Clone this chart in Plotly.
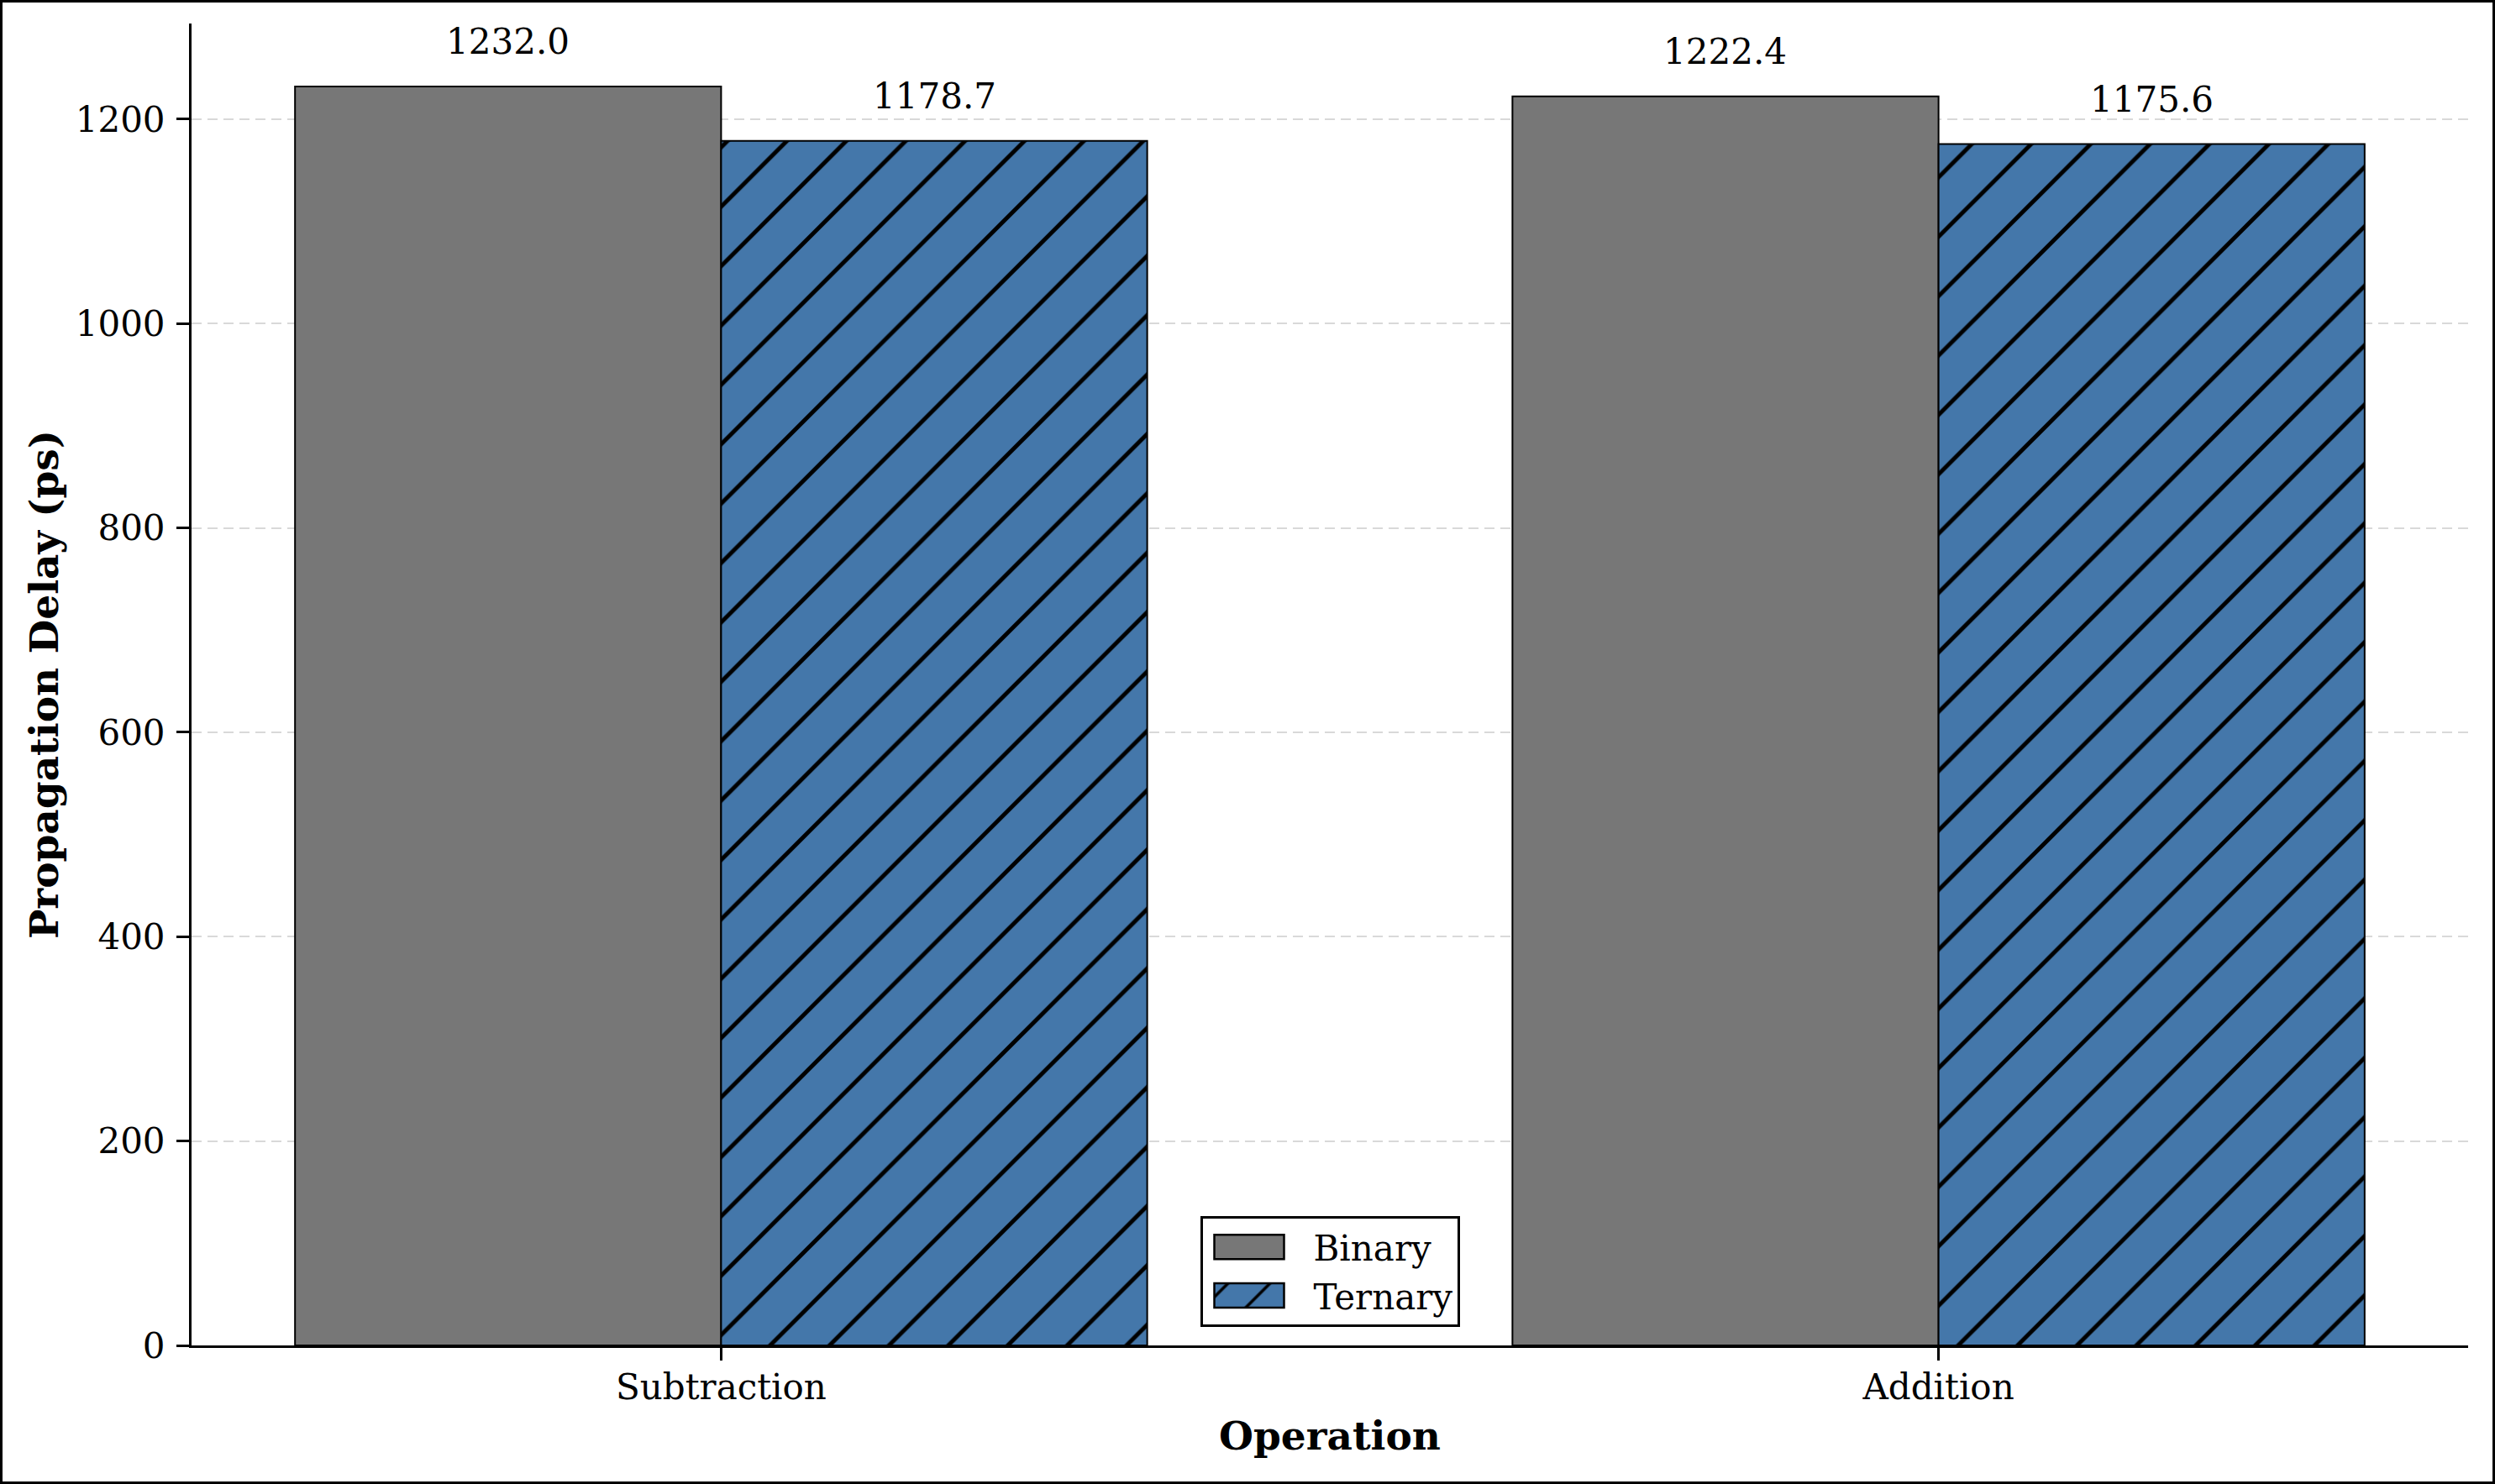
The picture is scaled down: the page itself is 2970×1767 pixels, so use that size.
import plotly.graph_objects as go

categories = ["Subtraction", "Addition"]
binary_vals = [1232.0, 1222.4]
ternary_vals = [1178.7, 1175.6]
series_names = ["Binary", "Ternary"]
y_ticks = [0, 200, 400, 600, 800, 1000, 1200]

W, H = 2970, 1767
L, R, T, B = 228, 32, 28, 165
pw, ph = W - L - R, H - T - B

FONT = "DejaVu Serif"
GRAY = "#777777"
BLUE = "#4477aa"
IW = 122

fig = go.Figure()
fig.add_trace(go.Bar(
    x=categories, y=binary_vals, name=series_names[0], legendgroup="a",
    marker=dict(color=GRAY, line=dict(color="black", width=2)),
))
fig.add_trace(go.Bar(
    x=categories, y=ternary_vals, name=series_names[1], legendgroup="b",
    marker=dict(color=BLUE, line=dict(color="black", width=2),
                pattern=dict(shape="/", fgcolor="black", bgcolor=BLUE, fgopacity=1,
                             size=50, solidity=0.1, fillmode="overlay")),
))

# value labels
for vals, off in ((binary_vals, -0.175), (ternary_vals, 0.175)):
    for i, v in enumerate(vals):
        fig.add_annotation(x=i + off, y=v, text=f"{v:.1f}", showarrow=False,
                           xref="x", yref="y", yanchor="middle", yshift=53,
                           font=dict(family=FONT, size=42, color="black"))

# figure frame
fig.add_shape(type="rect", xref="paper", yref="paper",
              x0=-(L - 1.5) / pw, x1=1 + (R - 1.5) / pw,
              y0=-(B - 1.5) / ph, y1=1 + (T - 1.5) / ph,
              line=dict(color="black", width=3), layer="above")

fig.update_layout(
    width=W, height=H,
    margin=dict(l=L, r=R, t=T, b=B, autoexpand=False),
    paper_bgcolor="white", plot_bgcolor="white",
    barmode="group", bargap=0.3, bargroupgap=0,
    font=dict(family=FONT, size=42, color="black"),
    showlegend=True,
    legend=dict(x=0.5, xanchor="center", y=22 / ph, yanchor="bottom",
                bgcolor="white", bordercolor="black", borderwidth=3,
                font=dict(family=FONT, size=42), itemwidth=IW,
                tracegroupgap=12, traceorder="normal"),
)
fig.update_xaxes(
    type="category", range=[-0.435, 1.435],
    showline=True, linecolor="black", linewidth=3,
    ticks="outside", ticklen=15, tickwidth=3, tickcolor="black",
    showgrid=False, zeroline=False, ticklabelstandoff=-4,
    tickfont=dict(family=FONT, size=42),
    title=dict(text="<b>Operation</b>", font=dict(family=FONT, size=47), standoff=18),
)
fig.update_yaxes(
    range=[0, 1293.6], tickvals=y_ticks,
    showline=True, linecolor="black", linewidth=3,
    ticks="outside", ticklen=15, tickwidth=3, tickcolor="black",
    showgrid=True, gridcolor="#d9d9d9", gridwidth=2, griddash="12px,7px",
    zeroline=False, ticklabelstandoff=5,
    tickfont=dict(family=FONT, size=42),
    title=dict(text="<b>Propagation Delay (ps)</b>", font=dict(family=FONT, size=47), standoff=6),
)

post = """
document.body.style.margin = '0';
document.body.style.padding = '0';
var gd = document.getElementsByClassName('plotly-graph-div')[0];
function bigLegend() {
  var paths = gd.querySelectorAll('.legend g.legendpoints path');
  paths.forEach(function(p) {
    p.setAttribute('d', 'M-52,14.5H31V-14.5H-52Z');
    p.style.strokeWidth = '2.5px';
    p.style.stroke = 'black';
    var f = p.style.fill || p.getAttribute('fill') || '';
    var m = f.match(/url\\(["']?#([^"')]+)["']?\\)/);
    if (m) {
      var pat = document.getElementById(m[1]);
      if (pat) {
        var w = parseFloat(pat.getAttribute('width')) || 8;
        pat.setAttribute('patternTransform', 'scale(' + (50 / w) + ')');
      }
    }
  });
}
bigLegend();
"""

fig.write_html("out.html", post_script=post, config={"displayModeBar": False})
